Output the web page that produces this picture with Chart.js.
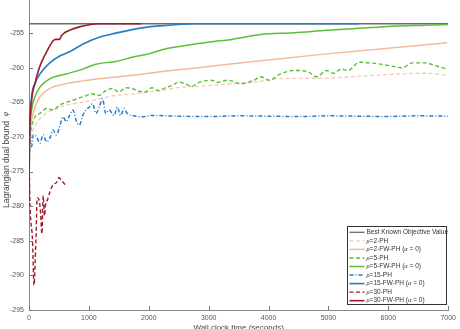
<!DOCTYPE html>
<html>
<head>
<meta charset="utf-8">
<script src="https://cdn.jsdelivr.net/npm/chart.js@4.4.0/dist/chart.umd.min.js"></script>
<style>
  html, body { margin: 0; padding: 0; background: #fff; overflow: hidden; }
  #wrap { position: absolute; left: 0; top: -8px; width: 460px; height: 337px; }
</style>
</head>
<body>
<div id="wrap"><canvas id="chart" width="460" height="337"></canvas></div>
<script>
// axis ticks
const xTicks = [0, 1000, 2000, 3000, 4000, 5000, 6000, 7000];
const yTicks = [-295, -290, -285, -280, -275, -270, -265, -260, -255, -250];

// best known objective value
const bestT = [0, 7000];
const bestV = [-253.65, -253.65];

// rho = 2
const rho2PhT = [0, 16, 44, 127, 237, 402, 622, 897, 1172, 1448, 1723, 1998, 2273, 2548, 2823, 3319, 3759, 4144, 4970, 5410, 5960, 6620, 6980];
const rho2PhV = [-272, -270.5, -269.5, -268.0, -266.9, -266.1, -265.4, -265.0, -264.5, -264.0, -263.8, -263.5, -263.2, -262.8, -262.7, -262.35, -262.1, -261.6, -261.5, -261.3, -261.0, -260.8, -261.1];
const rho2FwT = [0, 16, 44, 99, 182, 347, 622, 897, 1172, 1723, 2273, 2823, 3319, 4970, 6980];
const rho2FwV = [-272, -269.5, -267.6, -265.7, -264.2, -263.0, -262.3, -261.9, -261.6, -261.1, -260.5, -260.0, -259.5, -258.0, -256.4];

// rho = 5
const rho5PhT = [0, 16, 44, 99, 182, 292, 402, 512, 622, 732, 897, 1062, 1172, 1282, 1392, 1502, 1613, 1723, 1833, 1943, 2053, 2163, 2273, 2383, 2493, 2603, 2713, 2823, 2933, 3043, 3153, 3319, 3539, 3759, 3869, 4006, 4199, 4420, 4639, 4804, 4970, 5080, 5217, 5327, 5519, 5795, 6015, 6235, 6400, 6620, 6785, 6980];
const rho5PhV = [-272, -270, -268.5, -267.1, -266.6, -265.9, -266.1, -265.4, -265.0, -264.7, -264.2, -263.8, -264.0, -263.3, -263.0, -263.5, -262.9, -263.0, -263.4, -263.5, -262.9, -263.3, -262.9, -262.6, -262.1, -262.3, -262.7, -262.2, -261.9, -261.8, -262.1, -261.8, -262.3, -261.8, -261.3, -261.8, -260.9, -260.4, -260.5, -261.3, -260.4, -260.8, -260.2, -260.4, -259.2, -259.4, -259.7, -260.0, -259.3, -259.3, -259.7, -260.2];
const rho5FwT = [0, 16, 44, 99, 182, 347, 622, 897, 1117, 1448, 1723, 1998, 2273, 2548, 2823, 3098, 3319, 3869, 4420, 4970, 5520, 6070, 6620, 7000];
const rho5FwV = [-272, -268.5, -266.1, -264.2, -262.8, -261.6, -260.9, -260.2, -259.5, -259.1, -258.5, -258.0, -257.3, -256.9, -256.5, -256.2, -256.0, -255.2, -254.95, -254.6, -254.3, -254.0, -253.86, -253.76];

// rho = 15
const rho15PhT = [0, 16, 44, 71, 127, 182, 237, 292, 347, 402, 457, 512, 567, 622, 677, 732, 787, 842, 897, 952, 1007, 1062, 1117, 1172, 1227, 1282, 1337, 1420, 1475, 1530, 1585, 1640, 1723, 1888, 2053, 2500, 3000, 3500, 4000, 4500, 5000, 5500, 6000, 6500, 7000];
const rho15PhV = [-276, -270.4, -271.4, -269.7, -270.0, -270.9, -269.7, -270.7, -270.2, -269.0, -269.7, -268.5, -267.1, -267.8, -266.9, -266.1, -267.6, -268.3, -266.9, -266.1, -265.7, -265.2, -266.6, -265.7, -264.5, -266.6, -266.1, -266.9, -265.7, -266.9, -265.9, -266.6, -266.9, -267.1, -266.9, -267.0, -267.05, -266.95, -267.0, -267.05, -266.95, -267.0, -267.05, -266.95, -267.0];
const rho15FwT = [0, 8, 44, 99, 182, 347, 512, 677, 897, 1172, 1448, 1723, 1998, 2273, 2493, 2800, 5510];
const rho15FwV = [-276, -270, -264.2, -262.3, -260.9, -259.3, -258.3, -257.7, -256.6, -255.6, -255.0, -254.5, -254.1, -253.9, -253.75, -253.65, -253.65];

// rho = 30
const rho30PhT = [0, 8, 16, 60, 83, 116, 138, 171, 193, 215, 237, 259, 281, 303, 347, 402, 457, 500, 556, 622];
const rho30PhV = [-273, -276, -279.5, -285.2, -291.4, -284.7, -278.8, -279.2, -280.9, -284.0, -278.5, -281.4, -279.5, -279.2, -278.0, -276.9, -276.6, -275.9, -276.4, -277.1];
const rho30FwT = [0, 8, 44, 99, 154, 209, 319, 402, 446, 512, 539, 594, 677, 842, 1007, 1172, 1865];
const rho30FwV = [-279, -271, -264.7, -262.3, -260.5, -259.2, -257.3, -256.1, -255.9, -255.9, -255.4, -254.95, -254.6, -254.1, -253.8, -253.65, -253.65];

const OFFSET = 8; // canvas is shifted up by this much

const DASH = [4, 2.5];
const DASHDOT = [4, 2, 1, 2];

function pts(t, v) {
  return t.map((x, i) => ({ x: x, y: v[i] }));
}

const seriesDefs = [
  { label: [['Best Known Objective Value']], t: bestT, v: bestV, color: '#6a6a6a', dash: [], width: 1.3 },
  { label: [['ρ', 1], ['=2-PH']], t: rho2PhT, v: rho2PhV, color: '#f7c9b2', dash: DASH, width: 1.3 },
  { label: [['ρ', 1], ['=2-FW-PH ('], ['α', 1], [' = 0)']], t: rho2FwT, v: rho2FwV, color: '#f6b898', dash: [], width: 1.5 },
  { label: [['ρ', 1], ['=5-PH']], t: rho5PhT, v: rho5PhV, color: '#5cbf38', dash: DASH, width: 1.4 },
  { label: [['ρ', 1], ['=5-FW-PH ('], ['α', 1], [' = 0)']], t: rho5FwT, v: rho5FwV, color: '#5cbf38', dash: [], width: 1.5 },
  { label: [['ρ', 1], ['=15-PH']], t: rho15PhT, v: rho15PhV, color: '#2a7cc4', dash: DASHDOT, width: 1.5 },
  { label: [['ρ', 1], ['=15-FW-PH ('], ['α', 1], [' = 0)']], t: rho15FwT, v: rho15FwV, color: '#2a7cc4', dash: [], width: 1.6 },
  { label: [['ρ', 1], ['=30-PH']], t: rho30PhT, v: rho30PhV, color: '#9c1b2c', dash: DASH, width: 1.4 },
  { label: [['ρ', 1], ['=30-FW-PH ('], ['α', 1], [' = 0)']], t: rho30FwT, v: rho30FwV, color: '#9c1b2c', dash: [], width: 1.6 }
];

const datasets = seriesDefs.map((s, i) => ({
  data: pts(s.t, s.v),
  borderColor: s.color,
  borderWidth: s.width,
  borderDash: s.dash,
  pointRadius: 0,
  fill: false,
  cubicInterpolationMode: 'monotone',
  order: seriesDefs.length - i
}));

// inward tick marks, axis titles and the boxed legend
const decorations = {
  id: 'decorations',
  afterDraw(chart) {
    const ctx = chart.ctx;
    const xs = chart.scales.x, ys = chart.scales.y;
    const area = chart.chartArea;
    ctx.save();
    ctx.strokeStyle = '#777';
    ctx.lineWidth = 1;
    xTicks.forEach(v => {
      const px = Math.round(xs.getPixelForValue(v)) + 0.5;
      ctx.beginPath(); ctx.moveTo(px, area.bottom); ctx.lineTo(px, area.bottom - 4); ctx.stroke();
    });
    yTicks.forEach(v => {
      const py = Math.round(ys.getPixelForValue(v)) + 0.5;
      ctx.beginPath(); ctx.moveTo(area.left, py); ctx.lineTo(area.left + 4, py); ctx.stroke();
    });

    // axis titles
    ctx.fillStyle = '#444';
    ctx.font = '8px "Liberation Sans", Arial, sans-serif';
    ctx.textAlign = 'center';
    ctx.textBaseline = 'middle';
    ctx.fillText('Wall clock time (seconds)', (area.left + area.right) / 2, 328 + OFFSET);

    ctx.save();
    ctx.translate(6.5, 160 + OFFSET);
    ctx.rotate(-Math.PI / 2);
    ctx.textBaseline = 'middle';
    ctx.textAlign = 'left';
    const t1 = 'Lagrangian dual bound  ';
    ctx.font = '8.5px "Liberation Sans", Arial, sans-serif';
    const w1 = ctx.measureText(t1).width;
    ctx.font = 'italic 7.5px "Liberation Serif", serif';
    const w2 = ctx.measureText('φ').width;
    let x0 = -(w1 + w2) / 2;
    ctx.font = '8.5px "Liberation Sans", Arial, sans-serif';
    ctx.fillText(t1, x0, 0);
    ctx.font = 'italic 7.5px "Liberation Serif", serif';
    ctx.fillText('φ', x0 + w1, 0);
    ctx.restore();

    // legend
    const bx = 347.5, by = 226.5 + OFFSET, bw = 99, bh = 78;
    ctx.fillStyle = '#fff';
    ctx.fillRect(bx, by, bw, bh);
    ctx.strokeStyle = '#333';
    ctx.lineWidth = 1;
    ctx.setLineDash([]);
    ctx.strokeRect(bx, by, bw, bh);
    ctx.textAlign = 'left';
    ctx.textBaseline = 'middle';
    seriesDefs.forEach((s, i) => {
      const y = by + 5.8 + i * 8.55;
      ctx.strokeStyle = s.color;
      ctx.lineWidth = s.width;
      ctx.setLineDash(s.dash);
      ctx.beginPath(); ctx.moveTo(bx + 2, y); ctx.lineTo(bx + 17, y); ctx.stroke();
      ctx.setLineDash([]);
      let tx = bx + 19;
      ctx.fillStyle = '#333';
      s.label.forEach(seg => {
        ctx.font = seg[1] ? 'italic 6.5px "Liberation Serif", serif' : '6.5px "Liberation Sans", Arial, sans-serif';
        ctx.fillText(seg[0], tx, y);
        tx += ctx.measureText(seg[0]).width;
      });
    });
    ctx.restore();
  }
};

document.addEventListener('DOMContentLoaded', () => {
  const ctx = document.getElementById('chart').getContext('2d');
  new Chart(ctx, {
    type: 'line',
    data: { datasets: datasets },
    options: {
      responsive: false,
      animation: false,
      events: [],
      layout: { padding: { top: 6.5, right: 7, left: 0, bottom: 0 } },
      plugins: { legend: { display: false }, tooltip: { enabled: false } },
      scales: {
        x: {
          type: 'linear',
          min: 0,
          max: 7000,
          afterBuildTicks: s => { s.ticks = xTicks.map(v => ({ value: v })); },
          afterFit: s => { s.height = 19; },
          ticks: {
            font: { family: '"Liberation Sans", Arial, sans-serif', size: 7 },
            color: '#555',
            padding: 4,
            maxRotation: 0,
            callback: v => String(v)
          },
          grid: { display: false, drawTicks: false },
          border: { color: '#888', width: 1 }
        },
        y: {
          type: 'linear',
          min: -295,
          max: -250,
          afterBuildTicks: s => { s.ticks = yTicks.map(v => ({ value: v })); },
          afterFit: s => { s.width = 29; s.paddingTop = 0; s.paddingBottom = 0; },
          ticks: {
            font: { family: '"Liberation Sans", Arial, sans-serif', size: 7 },
            color: '#555',
            padding: 5,
            callback: v => String(v)
          },
          grid: { display: false, drawTicks: false },
          border: { color: '#888', width: 1 }
        }
      }
    },
    plugins: [decorations]
  });
});
</script>
</body>
</html>
